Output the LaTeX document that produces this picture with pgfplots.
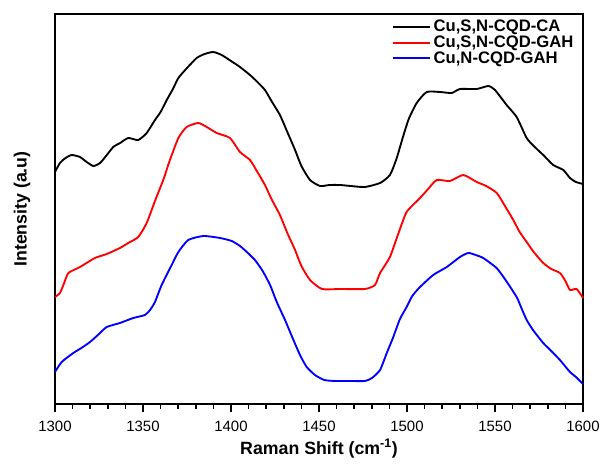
\documentclass[border=0pt]{standalone}
\usepackage{fontspec}
\setmainfont{Liberation Sans}
\usepackage{pgfplots}
\pgfplotsset{compat=1.18}
\begin{document}
\begin{tikzpicture}
\useasboundingbox (-41.25pt,-45pt) rectangle (409.5pt,303pt);
\begin{axis}[
  at={(0,0)}, anchor=south west,
  scale only axis, width=396pt, height=292.5pt,
  xmin=1300, xmax=1600, ymin=0, ymax=390,
  clip=false, unbounded coords=jump,
  xtick={1300,1350,...,1600},
  minor xtick={1310,1320,...,1590},
  ytick=\empty,
  xtick pos=left, xtick align=outside,
  major tick length=6pt, minor tick length=3.5pt,
  tick style={black, line width=1.1pt},
  axis line style={line width=1.3pt},
  /pgf/number format/assume math mode=true,
  /pgf/number format/1000 sep={},
  tick label style={font=\fontsize{11.2}{13}\selectfont},
  xticklabel style={yshift=-3pt},
  xlabel={\textbf{Raman Shift (cm\textsuperscript{-1})}},
  ylabel={\textbf{Intensity (a.u)}},
  label style={font=\fontsize{13.3}{15}\selectfont},
  xlabel style={yshift=1pt},
  ylabel style={yshift=15pt},
  legend style={draw=none, fill=none, at={(0.99,0.995)}, anchor=north east,
    font=\bfseries\fontsize{12.5}{13}\selectfont, row sep=-2.5pt,
    inner sep=1pt},
  legend cell align=left,
  legend image code/.code={\draw[#1, line width=1.5pt] (0pt,0pt) -- (28pt,0pt);},
  every axis plot/.append style={line width=1.4pt, line join=round, smooth, tension=0.35},
]
\addplot[black] coordinates {
(1300,232) (1302.8,241) (1306,246) (1309.5,249) (1314.2,247) (1318,242) (1321.8,238) (1325.6,241) (1329,248) (1333.1,257) (1337,261) (1341.6,266) (1347.3,264) (1352.1,271) (1356.8,284) (1360,292) (1363.5,304) (1367,315) (1370.1,326) (1375,336) (1380.5,346) (1385,350) (1389.9,352) (1394.7,349) (1400,343) (1405.1,337) (1410.8,329) (1415,322) (1419.3,314) (1423,303) (1427.8,289) (1432,272) (1436.4,254) (1440,238) (1444.9,224) (1450.6,218) (1456,219) (1461.9,219) (1468,218) (1476.1,217) (1484.7,221) (1490.3,229) (1494,245) (1497.7,267) (1501,285) (1505.5,301) (1511.2,312) (1518.8,312) (1525.4,311) (1530.1,315) (1539.6,315) (1546.2,318) (1550,314) (1556.6,299) (1562.3,287) (1568,266) (1572,258) (1577.4,249) (1583.1,239) (1588.8,234) (1592.6,226) (1596,222) (1600,220)
};
\addlegendentry{Cu,S,N-CQD-CA}
\addplot[red] coordinates {
(1300,107) (1302.8,111) (1305,120) (1307.6,131) (1314.2,137) (1322.7,146) (1329.4,150) (1336.9,156) (1341.6,161) (1347.3,167) (1352.1,181) (1356.8,203) (1361.5,224) (1365.3,244) (1370.1,266) (1374.8,277) (1381.4,281) (1386.2,277) (1391.9,271) (1399.4,266) (1405.1,252) (1410.8,244) (1415,232) (1419.3,219) (1423,205) (1427.8,189) (1432,171) (1436.4,154) (1440,138) (1444.9,124) (1451.7,115) (1461.9,115) (1476.1,115) (1481.8,119) (1484.7,131) (1490.3,147) (1495,170) (1499.8,192) (1507.4,206) (1512,215) (1516.9,224) (1524.4,223) (1532,229) (1539.6,222) (1545,218) (1551,211) (1556,197) (1560.4,184) (1564,172) (1568,162) (1572,152) (1577.4,141) (1582,135) (1586.9,131) (1590,123) (1592.6,114) (1596.4,115) (1600,106)
};
\addlegendentry{Cu,S,N-CQD-GAH}
\addplot[blue] coordinates {
(1300,32) (1303.8,42) (1310.4,51) (1315,56) (1319.9,62) (1325,70) (1329.4,77) (1336.9,81) (1344.5,86) (1351.1,89) (1354,94) (1356.8,102) (1360.6,119) (1366.3,139) (1370.1,152) (1375.7,164) (1384.3,168) (1393.8,166) (1400.4,163) (1405.1,158) (1409,152) (1413.6,144) (1418,133) (1422.2,119) (1426,102) (1430.7,84) (1435,66) (1439.2,49) (1443,37) (1447.7,29) (1453,24) (1459.1,23) (1468,23) (1476.1,23) (1480.1,26) (1484.7,34) (1488.5,51) (1492,66) (1496,85) (1499.8,97) (1503,108) (1507.4,117) (1514.9,129) (1522.6,137) (1530.1,147) (1534.8,151) (1539,149) (1543.3,146) (1550.9,136) (1556,124) (1562.3,107) (1565,96) (1568,84) (1572,73) (1577.4,61) (1582,53) (1586.9,44) (1592.6,32) (1596,27) (1600,20)
};
\addlegendentry{Cu,N-CQD-GAH}
\addplot[black, line width=1.1pt, sharp plot, forget plot] coordinates {
(1300,0) (1300,-8) (1305,nan) (1310,0) (1310,-4.5) (1315,nan) (1320,0) (1320,-4.5) (1325,nan) (1330,0) (1330,-4.5) (1335,nan) (1340,0) (1340,-4.5) (1345,nan)
(1350,0) (1350,-8) (1355,nan) (1360,0) (1360,-4.5) (1365,nan) (1370,0) (1370,-4.5) (1375,nan) (1380,0) (1380,-4.5) (1385,nan) (1390,0) (1390,-4.5) (1395,nan)
(1400,0) (1400,-8) (1405,nan) (1410,0) (1410,-4.5) (1415,nan) (1420,0) (1420,-4.5) (1425,nan) (1430,0) (1430,-4.5) (1435,nan) (1440,0) (1440,-4.5) (1445,nan)
(1450,0) (1450,-8) (1455,nan) (1460,0) (1460,-4.5) (1465,nan) (1470,0) (1470,-4.5) (1475,nan) (1480,0) (1480,-4.5) (1485,nan) (1490,0) (1490,-4.5) (1495,nan)
(1500,0) (1500,-8) (1505,nan) (1510,0) (1510,-4.5) (1515,nan) (1520,0) (1520,-4.5) (1525,nan) (1530,0) (1530,-4.5) (1535,nan) (1540,0) (1540,-4.5) (1545,nan)
(1550,0) (1550,-8) (1555,nan) (1560,0) (1560,-4.5) (1565,nan) (1570,0) (1570,-4.5) (1575,nan) (1580,0) (1580,-4.5) (1585,nan) (1590,0) (1590,-4.5) (1595,nan)
(1600,0) (1600,-8)
};
\end{axis}
\end{tikzpicture}
\end{document}
